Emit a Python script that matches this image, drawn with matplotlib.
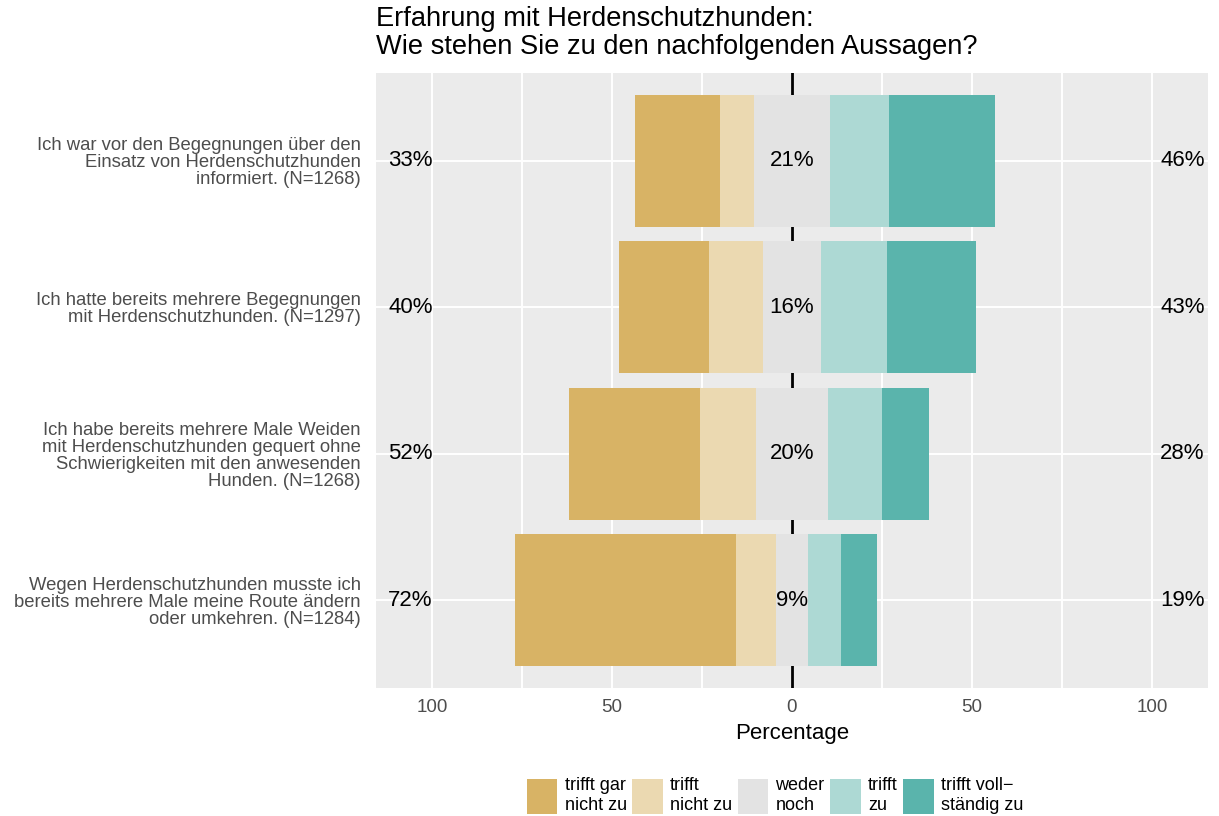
import matplotlib
matplotlib.use("Agg")
import matplotlib.pyplot as plt
from matplotlib.patches import Patch
import numpy as np

plt.rcParams['font.family'] = ['Liberation Sans', 'DejaVu Sans']

# Aussagen (von oben nach unten)
items = [
    "Ich war vor den Begegnungen über den\nEinsatz von Herdenschutzhunden\ninformiert. (N=1268)",
    "Ich hatte bereits mehrere Begegnungen\nmit Herdenschutzhunden. (N=1297)",
    "Ich habe bereits mehrere Male Weiden\nmit Herdenschutzhunden gequert ohne\nSchwierigkeiten mit den anwesenden\nHunden. (N=1268)",
    "Wegen Herdenschutzhunden musste ich\nbereits mehrere Male meine Route ändern\noder umkehren. (N=1284)",
]

# Anteile in Prozent
gar_nicht = [23.5, 25.0, 36.5, 61.5]
nicht = [9.5, 15.0, 15.5, 11.0]
neutral = [21.0, 16.0, 20.0, 9.0]
zu = [16.5, 18.5, 15.0, 9.0]
voll = [29.5, 24.5, 13.0, 10.0]

left_labels = ["33%", "40%", "52%", "72%"]
mid_labels = ["21%", "16%", "20%", "9%"]
right_labels = ["46%", "43%", "28%", "19%"]

legend_labels = ["trifft gar\nnicht zu", "trifft\nnicht zu", "weder\nnoch", "trifft\nzu", "trifft voll−\nständig zu"]
colors = ['#D8B365', '#EBD9B1', '#E3E3E3', '#ADD9D4', '#5AB4AC']

xticks = [-100, -75, -50, -25, 0, 25, 50, 75, 100]
xtick_labels = ["100", "", "50", "", "0", "", "50", "", "100"]

fig = plt.figure(figsize=(12.19, 8.16), dpi=100)
ax = fig.add_axes([376/1219, 1 - 688/816, (1208-376)/1219, (688-73)/816])
ax.set_facecolor('#EBEBEB')

y = np.arange(len(items))[::-1] + 1
gn = np.array(gar_nicht); n = np.array(nicht); ne = np.array(neutral)
z = np.array(zu); v = np.array(voll)

# Balken: neutral mittig, negative links, positive rechts
h = 0.9
ax.barh(y, -ne/2, height=h, color=colors[2], zorder=3)
ax.barh(y, ne/2, height=h, color=colors[2], zorder=3)
ax.barh(y, -n, left=-ne/2, height=h, color=colors[1], zorder=3)
ax.barh(y, -gn, left=-ne/2 - n, height=h, color=colors[0], zorder=3)
ax.barh(y, z, left=ne/2, height=h, color=colors[3], zorder=3)
ax.barh(y, v, left=ne/2 + z, height=h, color=colors[4], zorder=3)

ax.axvline(0, color='black', lw=2.0, zorder=2)

for yi, l, m, r in zip(y, left_labels, mid_labels, right_labels):
    ax.text(-106, yi, l, ha='center', va='center', fontsize=16, zorder=4)
    ax.text(0, yi, m, ha='center', va='center', fontsize=16, zorder=4)
    ax.text(108.5, yi, r, ha='center', va='center', fontsize=16, zorder=4)

ax.set_xlim(-115.6, 115.6)
ax.set_ylim(0.4, len(items) + 0.6)
ax.set_xticks(xticks)
ax.set_xticklabels(xtick_labels)
ax.set_yticks(y)
ax.set_yticklabels(items, fontsize=13.3, color='#4D4D4D', linespacing=1.0)
ax.tick_params(axis='x', labelsize=13.5, labelcolor='#4D4D4D', length=0, pad=8)
ax.tick_params(axis='y', length=0, pad=11)
ax.grid(True, color='white', lw=1.4, zorder=0)
ax.set_axisbelow(True)
for s in ax.spines.values():
    s.set_visible(False)
ax.set_xlabel("Percentage", fontsize=16, labelpad=5)

fig.text(376/1219, 1 - 6/816, "Erfahrung mit Herdenschutzhunden:\nWie stehen Sie zu den nachfolgenden Aussagen?",
         ha='left', va='top', fontsize=19.6, linespacing=1.08)

handles = [Patch(facecolor=c, edgecolor='none') for c in colors]
fig.legend(handles, legend_labels, loc='lower center', bbox_to_anchor=(775/1219, 0.0),
           ncol=5, frameon=False, fontsize=13, handlelength=1.7, handleheight=2.6,
           handletextpad=0.4, columnspacing=0.3, labelspacing=0.2, borderaxespad=0.0,
           borderpad=0.1)

fig.savefig("out.png", dpi=100)
